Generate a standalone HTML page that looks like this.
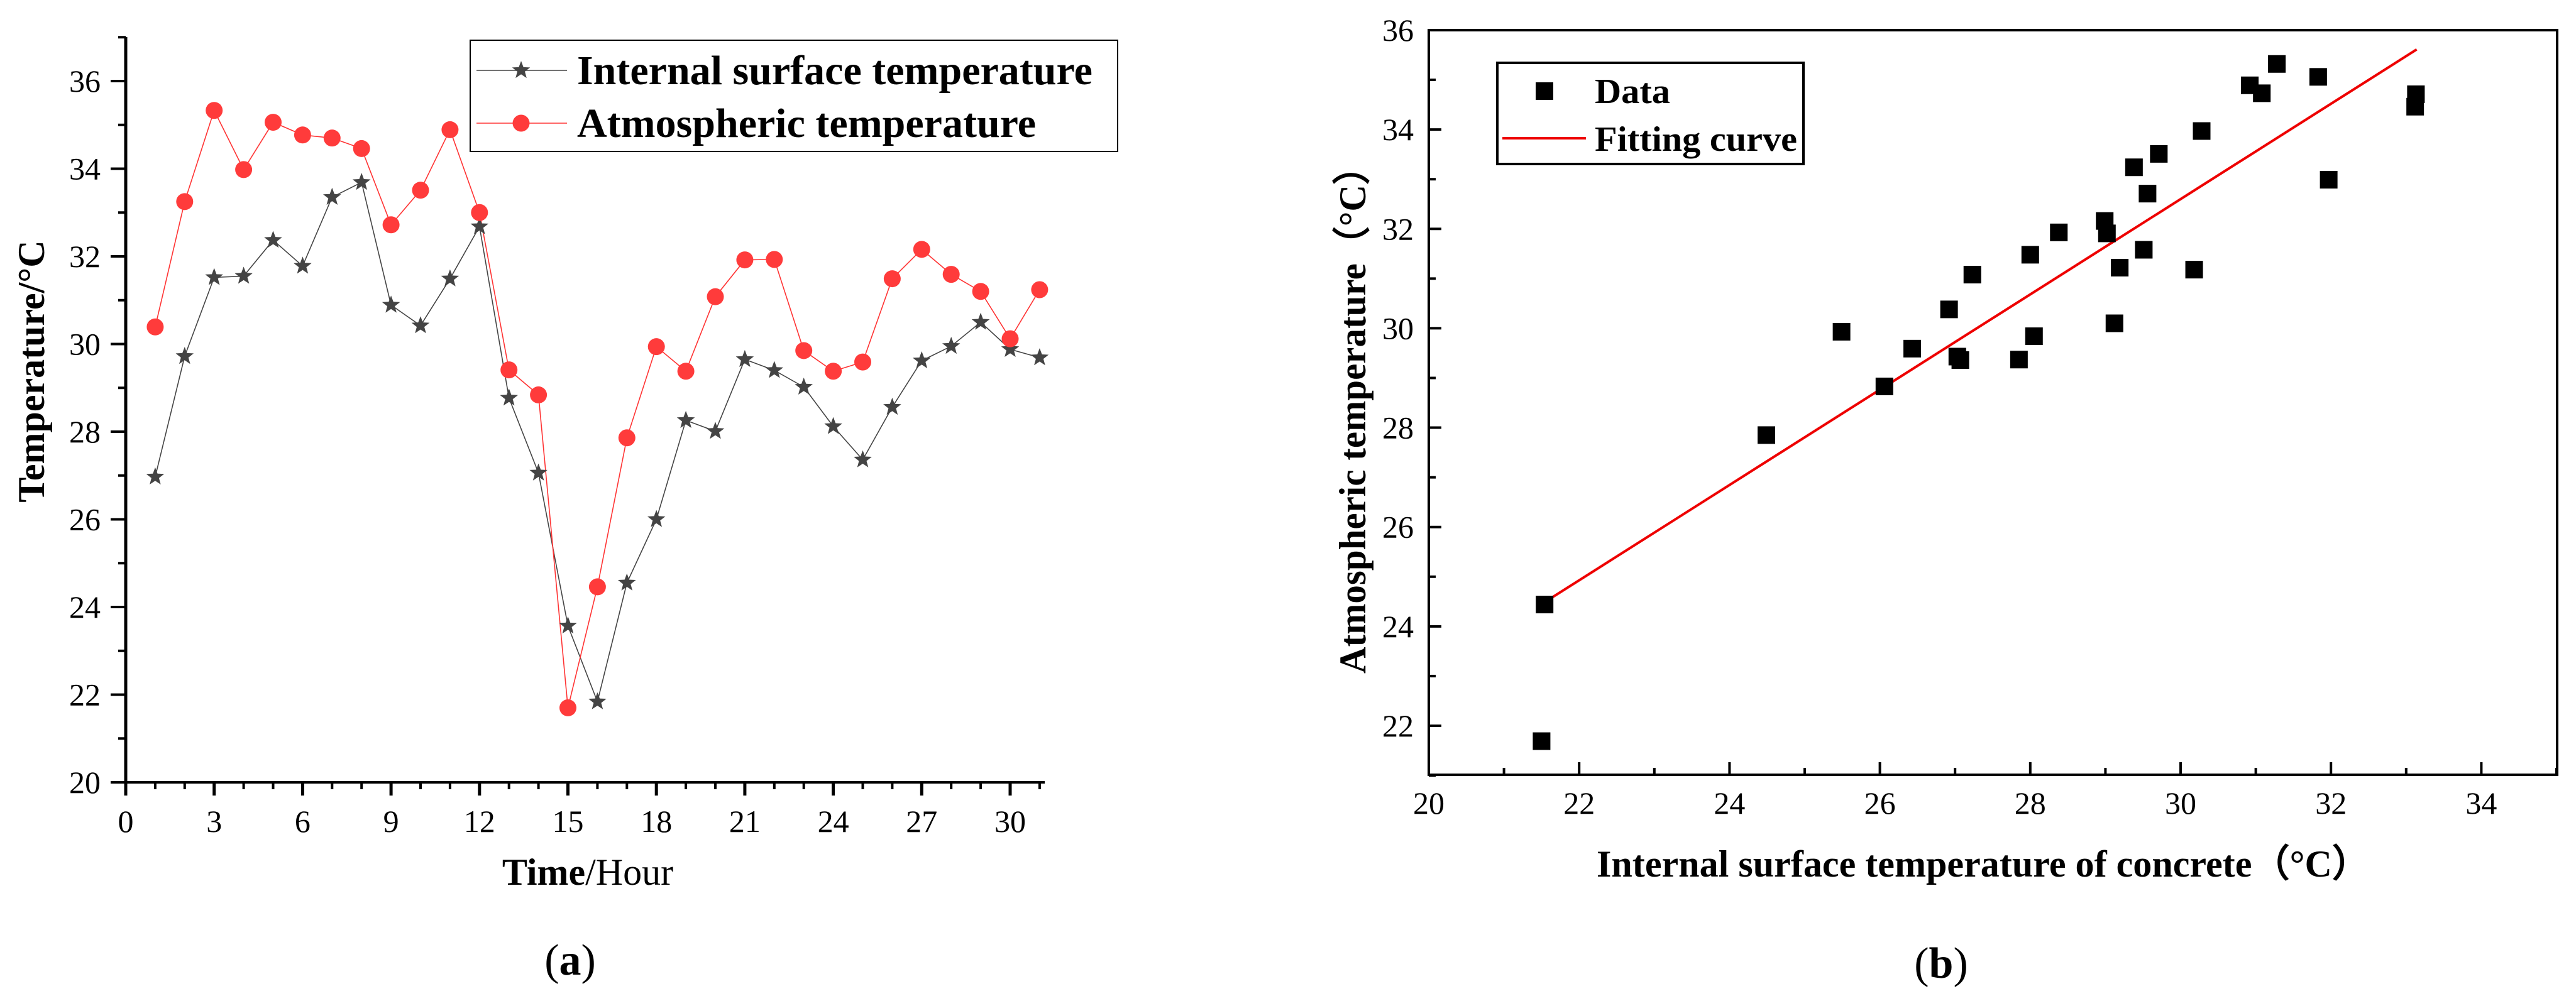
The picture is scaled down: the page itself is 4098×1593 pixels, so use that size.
<!DOCTYPE html>
<html><head><meta charset="utf-8"><style>
html,body{margin:0;padding:0;background:#fff;}
svg{display:block;font-family:"Liberation Serif",serif;}
</style></head><body>
<svg id="fig" width="4098" height="1593" viewBox="0 0 4098 1593">
<g id="chartA"></g>
<g id="chartB"></g>
</svg>
<script>
// ---- Chart (a) data ----
const hours = [1,2,3,4,5,6,7,8,9,10,11,12,13,14,15,16,17,18,19,20,21,22,23,24,25,26,27,28,29,30,31];
const internalTemp = [26.97,29.72,31.52,31.55,32.37,31.78,33.35,33.69,30.89,30.42,31.49,32.68,28.77,27.06,23.57,21.84,24.55,26.00,28.26,28.01,29.65,29.40,29.02,28.12,27.36,28.56,29.62,29.95,30.50,29.88,29.69];
const atmosTemp = [30.39,33.25,35.33,33.98,35.06,34.77,34.70,34.46,32.72,33.51,34.89,33.00,29.41,28.84,21.70,24.46,27.86,29.94,29.38,31.08,31.92,31.93,29.85,29.38,29.59,31.49,32.16,31.59,31.20,30.12,31.24];
const xTicksA = [0,3,6,9,12,15,18,21,24,27,30];
const yTicksA = [20,22,24,26,28,30,32,34,36];
// ---- Chart (b) data ----
const scatterX = [21.50,21.54,24.49,25.49,26.06,26.43,26.92,27.03,27.07,27.23,27.85,28.00,28.05,28.38,28.99,29.02,29.12,29.19,29.38,29.51,29.56,29.71,30.18,30.28,30.92,31.08,31.28,31.83,31.97,33.13,33.12];
const scatterY = [21.69,24.44,27.85,29.93,28.83,29.59,30.38,29.43,29.36,31.08,29.37,31.48,29.84,31.93,32.16,31.91,30.10,31.22,33.24,31.58,32.71,33.51,31.18,33.97,34.89,34.73,35.32,35.06,32.99,34.71,34.46];
const fitRange = [21.54,33.14];
const fitCoef = [3.83,0.959];
const xTicksB = [20,22,24,26,28,30,32,34];
const yTicksB = [22,24,26,28,30,32,34,36];

const NS="http://www.w3.org/2000/svg";
function mk(parent,tag,attrs,text){const e=document.createElementNS(NS,tag);for(const k in attrs)e.setAttribute(k,attrs[k]);if(text!==undefined)e.textContent=text;parent.appendChild(e);return e;}

// ===== Chart A =====
const A=document.getElementById('chartA');
const ax=v=>200+v*46.9;
const ay=v=>1245-(v-20)*69.75;
let e=mk(A,'line',{x1:200,y1:59,x2:200,y2:1247,stroke:'#000','stroke-width':5});

e=mk(A,'line',{x1:198,y1:1245,x2:1662,y2:1245,stroke:'#000','stroke-width':4});

for(let v=20;v<=37;v++){const major=(v%2===0);
 e=mk(A,'line',{x1:major?176:188,y1:ay(v),x2:200,y2:ay(v),stroke:'#000','stroke-width':4});
 }
yTicksA.forEach(v=>{e=mk(A,'text',{x:160,y:ay(v)+17,'text-anchor':'end','font-size':50},String(v));
 });
for(let h=0;h<=31;h++){const major=(h%3===0);
 e=mk(A,'line',{x1:ax(h),y1:1245,x2:ax(h),y2:major?1266:1256,stroke:'#000','stroke-width':major?5:4});
 }
xTicksA.forEach(v=>{e=mk(A,'text',{x:ax(v),y:1324,'text-anchor':'middle','font-size':50},String(v));
 });
e=mk(A,'text',{x:935,y:1408,'text-anchor':'middle','font-size':60});

mk(e,'tspan',{'font-weight':'bold'},'Time');mk(e,'tspan',{},'/Hour');
e=mk(A,'text',{x:0,y:0,'text-anchor':'middle','font-size':60,'font-weight':'bold',transform:'translate(70,591) rotate(-90)'},'Temperature/°C');

e=mk(A,'text',{x:907,y:1551,'text-anchor':'middle','font-size':70});

mk(e,'tspan',{},'(');mk(e,'tspan',{'font-weight':'bold'},'a');mk(e,'tspan',{},')');
function star(cx,cy,r){let p=[];for(let i=0;i<10;i++){const rr=i%2?r*0.42:r;const a=-Math.PI/2+i*Math.PI/5;p.push((cx+rr*Math.cos(a)).toFixed(1)+','+(cy+rr*Math.sin(a)).toFixed(1));}return p.join(' ');}
e=mk(A,'polyline',{points:hours.map((h,i)=>ax(h)+','+ay(internalTemp[i])).join(' '),fill:'none',stroke:'#444','stroke-width':1.6});

e=mk(A,'polyline',{points:hours.map((h,i)=>ax(h)+','+ay(atmosTemp[i])).join(' '),fill:'none',stroke:'#f33','stroke-width':1.6});

hours.forEach((h,i)=>{e=mk(A,'polygon',{points:star(ax(h),ay(internalTemp[i]),15),fill:'#444'});
 });
hours.forEach((h,i)=>{e=mk(A,'circle',{cx:ax(h),cy:ay(atmosTemp[i]),r:13.5,fill:'#ff3b3b'});
 });
const LA=mk(A,'g',{});

mk(LA,'rect',{x:748,y:64,width:1030,height:177,fill:'#fff',stroke:'#000','stroke-width':2});
mk(LA,'line',{x1:758,y1:112,x2:902,y2:112,stroke:'#444','stroke-width':1.6});
mk(LA,'polygon',{points:star(829,112,15),fill:'#444'});
e=mk(LA,'text',{x:918,y:134,'font-size':66,'font-weight':'bold'},'Internal surface temperature');

mk(LA,'line',{x1:758,y1:196,x2:902,y2:196,stroke:'#f33','stroke-width':1.6});
mk(LA,'circle',{cx:829,cy:196,r:13.5,fill:'#ff3b3b'});
e=mk(LA,'text',{x:918,y:218,'font-size':66,'font-weight':'bold'},'Atmospheric temperature');


// ===== Chart B =====
const B=document.getElementById('chartB');
const bx=v=>2273+(v-20)*119.6;
const by=v=>48+(36-v)*79.07;
e=mk(B,'rect',{x:2273,y:48,width:1795,height:1185,fill:'none',stroke:'#000','stroke-width':4});

for(let v=20;v<=35;v++){const major=(v%2===0);
 e=mk(B,'line',{x1:bx(v),y1:1233,x2:bx(v),y2:major?1213:1222,stroke:'#000','stroke-width':4});
 }
for(let v=21;v<=36;v++){const major=(v%2===0);
 e=mk(B,'line',{x1:2273,y1:by(v),x2:major?2293:2284,y2:by(v),stroke:'#000','stroke-width':4});
 }
xTicksB.forEach(v=>{e=mk(B,'text',{x:bx(v),y:1295,'text-anchor':'middle','font-size':50,textLength:50,lengthAdjust:'spacingAndGlyphs'},String(v));
 });
yTicksB.forEach(v=>{e=mk(B,'text',{x:2249,y:by(v)+17,'text-anchor':'end','font-size':50,textLength:50,lengthAdjust:'spacingAndGlyphs'},String(v));
 });
e=mk(B,'text',{x:2540,y:1395,'font-size':60,'font-weight':'bold',textLength:1230,lengthAdjust:'spacingAndGlyphs'},'Internal surface temperature of concrete（°C）');

e=mk(B,'text',{x:0,y:0,'font-size':60,'font-weight':'bold',textLength:837,lengthAdjust:'spacingAndGlyphs',transform:'translate(2172,1072) rotate(-90)'},'Atmospheric temperature（°C）');

e=mk(B,'text',{x:3088,y:1556,'text-anchor':'middle','font-size':70});

mk(e,'tspan',{},'(');mk(e,'tspan',{'font-weight':'bold'},'b');mk(e,'tspan',{},')');
e=mk(B,'line',{x1:bx(fitRange[0]),y1:by(fitCoef[0]+fitCoef[1]*fitRange[0]),x2:bx(fitRange[1]),y2:by(fitCoef[0]+fitCoef[1]*fitRange[1]),stroke:'#e00','stroke-width':4});

scatterX.forEach((xv,i)=>{e=mk(B,'rect',{x:bx(xv)-14,y:by(scatterY[i])-14,width:28,height:28,fill:'#000'});
 });
const LB=mk(B,'g',{});

mk(LB,'rect',{x:2382,y:100,width:487,height:161,fill:'#fff',stroke:'#000','stroke-width':4});
mk(LB,'rect',{x:2443,y:131,width:28,height:28,fill:'#000'});
e=mk(LB,'text',{x:2537,y:164,'font-size':56,'font-weight':'bold',textLength:120,lengthAdjust:'spacingAndGlyphs'},'Data');

mk(LB,'line',{x1:2390,y1:220,x2:2523,y2:220,stroke:'#e00','stroke-width':4});
e=mk(LB,'text',{x:2537,y:240,'font-size':56,'font-weight':'bold',textLength:322,lengthAdjust:'spacingAndGlyphs'},'Fitting curve');

</script>
</body></html>
